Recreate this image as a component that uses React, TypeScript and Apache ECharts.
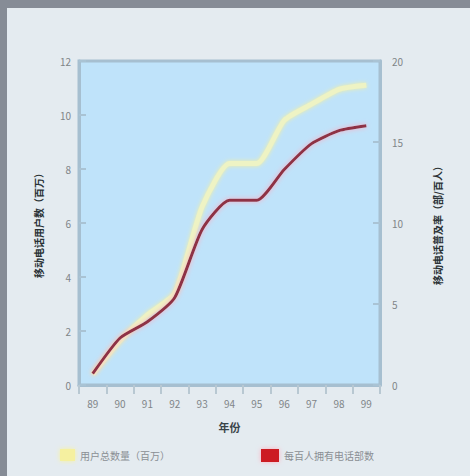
import React, { useEffect, useRef } from "react";
import * as echarts from "echarts";

const years = ["89", "90", "91", "92", "93", "94", "95", "96", "97", "98", "99"];
const usersSeries = [0.4, 1.65, 2.6, 3.4, 6.6, 8.2, 8.2, 9.8, 10.4, 10.95, 11.1];
const rateSeries = [0.7, 2.9, 3.9, 5.4, 9.6, 11.4, 11.4, 13.3, 14.9, 15.7, 16.0];
const leftTicks = { min: 0, max: 12, interval: 2 };
const rightTicks = { min: 0, max: 20, interval: 5 };
const nameUsers = "用户总数量（百万）";
const nameRate = "每百人拥有电话部数";
const leftAxisName = "移动电话用户数（百万）";
const rightAxisName = "移动电话普及率（部/百人）";
const xAxisName = "年份";

const FONT = "'Noto Sans CJK SC', 'Noto Sans', sans-serif";

export default function App() {
  const ref = useRef<HTMLDivElement>(null);
  useEffect(() => {
    document.body.style.margin = "0";
    const chart = echarts.init(ref.current!, null, { renderer: "svg" });
    const tickColor = "#a9c3d4";
    chart.setOption({
      animation: false,
      textStyle: { fontFamily: FONT },
      grid: {
        left: 72,
        top: 53,
        right: 90,
        bottom: 91,
        show: true,
        backgroundColor: "#bfe3fa",
        borderColor: "#a6bfd0",
        borderWidth: 3,
      },
      legend: [
        {
          data: [{ name: nameUsers, icon: "rect", itemStyle: { color: "#f5f0a0", shadowColor: "#f8f3a0", shadowBlur: 5 } }],
          left: 48,
          top: 436,
          itemWidth: 15,
          itemHeight: 12,
          textStyle: { fontSize: 10, color: "#8a8f94", fontFamily: FONT },
        },
        {
          data: [{ name: nameRate, icon: "rect", itemStyle: { color: "#cc1a22", shadowColor: "#ffb0c0", shadowBlur: 5 } }],
          left: 249,
          top: 436,
          itemWidth: 18,
          itemHeight: 13,
          textStyle: { fontSize: 10, color: "#8a8f94", fontFamily: FONT },
        },
      ],
      xAxis: {
        type: "category",
        data: years,
        boundaryGap: true,
        name: xAxisName,
        nameLocation: "middle",
        nameGap: 36,
        nameTextStyle: { fontSize: 11, color: "#3a4448", fontWeight: "bold", fontFamily: FONT },
        axisLine: { show: true, lineStyle: { color: "#a6bfd0", width: 3 } },
        axisTick: { show: true, inside: false, length: 9, lineStyle: { color: "#b8c8d2", width: 2 } },
        axisLabel: { fontSize: 10, color: "#7f8588", margin: 13 },
        splitLine: { show: false },
      },
      yAxis: [
        {
          type: "value",
          ...leftTicks,
          position: "left",
          name: leftAxisName,
          nameLocation: "middle",
          nameRotate: 90,
          nameGap: 36,
          nameTextStyle: { fontSize: 10, color: "#2a3236", fontWeight: "bold", fontFamily: FONT },
          axisLine: { show: true, lineStyle: { color: "#a6bfd0", width: 3 } },
          axisTick: { show: true, inside: true, length: 7, lineStyle: { color: tickColor, width: 2 } },
          axisLabel: { fontSize: 10, color: "#7f8588", margin: 8 },
          splitLine: { show: false },
        },
        {
          type: "value",
          ...rightTicks,
          position: "right",
          name: rightAxisName,
          nameLocation: "middle",
          nameRotate: 90,
          nameGap: 52,
          nameTextStyle: { fontSize: 10, color: "#2a3236", fontWeight: "bold", fontFamily: FONT },
          axisLine: { show: true, lineStyle: { color: "#a6bfd0", width: 3 } },
          axisTick: { show: true, inside: true, length: 7, lineStyle: { color: tickColor, width: 2 } },
          axisLabel: { fontSize: 10, color: "#7f8588", margin: 12 },
          splitLine: { show: false },
        },
      ],
      series: [
        {
          name: nameUsers,
          type: "line",
          yAxisIndex: 0,
          data: usersSeries,
          smooth: 0.2,
          symbol: "none",
          lineStyle: { color: "#eef3c4", width: 5, shadowColor: "#f4f0a0", shadowBlur: 4 },
          itemStyle: { color: "#f5f0a0" },
          z: 2,
        },
        {
          name: nameRate,
          type: "line",
          yAxisIndex: 1,
          data: rateSeries,
          smooth: 0.2,
          symbol: "none",
          lineStyle: { color: "#8e3244", width: 3, shadowColor: "#ffaac0", shadowBlur: 5 },
          itemStyle: { color: "#cc1a22" },
          z: 3,
        },
      ],
    });
    return () => chart.dispose();
  }, []);
  return (
    <div
      style={{
        position: "fixed",
        left: 0,
        top: 0,
        width: 470,
        height: 476,
        boxSizing: "border-box",
        background: "#e4ebf0",
        borderTop: "8px solid #868c96",
        borderLeft: "7px solid #868c96",
      }}
    >
      <div ref={ref} style={{ width: 463, height: 468 }} />
    </div>
  );
}
